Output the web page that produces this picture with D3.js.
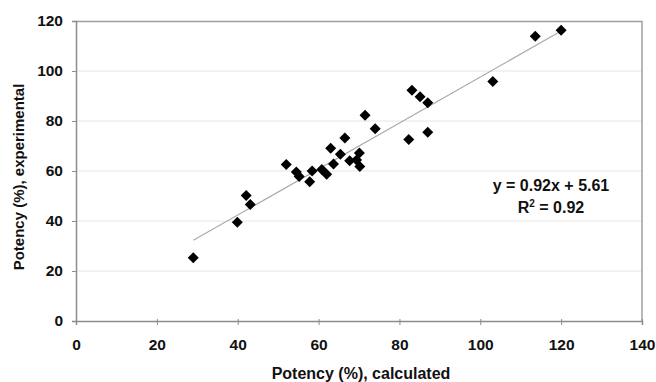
<!DOCTYPE html>
<html>
<head>
<meta charset="utf-8">
<script src="https://cdn.jsdelivr.net/npm/d3@7"></script>
<style>
  body { margin: 0; background: #fff; }
  text { font-family: "Liberation Sans", Arial, sans-serif; font-weight: bold; fill: #111; }
</style>
</head>
<body>
<div id="chart"></div>
<script>
// Calculated vs experimental potency (%)
const calculated = [29.0, 39.9, 42.1, 43.1, 52.0, 54.5, 55.2, 57.8, 58.4, 60.8,
  62.0, 63.7, 63.0, 65.4, 66.5, 67.7, 69.4, 70.1, 70.2, 71.5,
  74.0, 82.3, 83.1, 85.1, 87.0, 87.0, 103.1, 113.6, 120.0];
const experimental = [25.3, 39.5, 50.2, 46.6, 62.6, 59.6, 57.8, 55.7, 60.0, 60.6,
  58.7, 62.8, 69.1, 66.7, 73.2, 64.1, 64.4, 67.2, 61.8, 82.3,
  76.9, 72.6, 92.3, 89.7, 87.3, 75.5, 95.8, 113.9, 116.3];
const xTicks = [0, 20, 40, 60, 80, 100, 120, 140];
const yTicks = [0, 20, 40, 60, 80, 100, 120];
const slope = 0.92, intercept = 5.61;

const W = 656, H = 382;
const margin = {top: 21, right: 14, bottom: 61, left: 76};
const width = W - margin.left - margin.right;
const height = H - margin.top - margin.bottom;

const svg = d3.select("#chart").append("svg")
  .attr("width", W).attr("height", H);
const g = svg.append("g")
  .attr("transform", "translate(" + margin.left + "," + margin.top + ")");

const x = d3.scaleLinear().domain([0, 140]).range([0, width]);
const y = d3.scaleLinear().domain([0, 120]).range([height, 0]);

// gridlines
g.selectAll(".grid").data(yTicks.slice(1, -1)).enter().append("line")
  .attr("x1", 0).attr("x2", width)
  .attr("y1", d => y(d)).attr("y2", d => y(d))
  .attr("stroke", "#e6e6e6").attr("stroke-width", 1);

// plot border (top, right)
g.append("path")
  .attr("d", "M0,0.5H" + width + "V" + height)
  .attr("fill", "none").attr("stroke", "#a0a0a0").attr("stroke-width", 1.5);

// axes
const xAxis = d3.axisBottom(x).tickValues(xTicks).tickSize(4).tickPadding(14);
const yAxis = d3.axisLeft(y).tickValues(yTicks).tickSize(4).tickPadding(9);

const gx = g.append("g").attr("transform", "translate(0," + height + ")").call(xAxis);
const gy = g.append("g").call(yAxis);
[gx, gy].forEach(a => {
  a.select(".domain").attr("stroke", "#8c8c8c").attr("stroke-width", 1.5);
  a.selectAll(".tick line").attr("stroke", "#8c8c8c");
  a.selectAll(".tick text").style("font-size", "15.5px").attr("fill", "#111");
});
gx.selectAll(".tick line").attr("y1", -2);

// trend line
const lx = d3.extent(calculated);
g.append("line")
  .attr("x1", x(lx[0])).attr("y1", y(slope * lx[0] + intercept))
  .attr("x2", x(lx[1])).attr("y2", y(slope * lx[1] + intercept))
  .attr("stroke", "#aaaaaa").attr("stroke-width", 1.2);

// points
const pts = calculated.map((c, i) => [c, experimental[i]]);
g.selectAll(".pt").data(pts).enter().append("path")
  .attr("class", "pt")
  .attr("transform", d => "translate(" + x(d[0]) + "," + y(d[1]) + ")")
  .attr("d", "M0,-5.5L5.5,0L0,5.5L-5.5,0Z")
  .attr("fill", "#000");

// equation
g.append("text")
  .attr("x", 475).attr("y", 170)
  .attr("text-anchor", "middle")
  .style("font-size", "16px")
  .text("y = 0.92x + 5.61");
const r2 = g.append("text")
  .attr("x", 475).attr("y", 192)
  .attr("text-anchor", "middle")
  .style("font-size", "16px");
r2.append("tspan").text("R");
r2.append("tspan").attr("dy", -6).style("font-size", "10px").text("2");
r2.append("tspan").attr("dy", 6).text(" = 0.92");

// axis titles
svg.append("text")
  .attr("x", margin.left + width / 2 + 2).attr("y", 379)
  .attr("text-anchor", "middle")
  .style("font-size", "16px")
  .text("Potency (%), calculated");
svg.append("text")
  .attr("transform", "translate(24,177) rotate(-90)")
  .attr("text-anchor", "middle")
  .style("font-size", "15px")
  .text("Potency (%), experimental");
</script>
</body>
</html>
